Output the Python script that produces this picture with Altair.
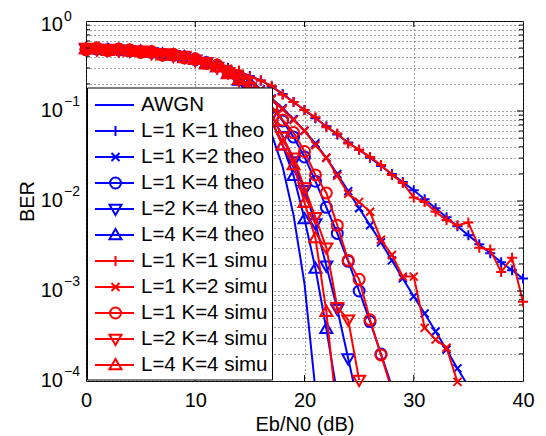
import altair as alt
import pandas as pd

# ---------------- data (log10 of BER) ----------------
ebn0 = list(range(41))

series_names = ["AWGN", "L=1 K=1 theo", "L=1 K=2 theo", "L=1 K=4 theo", "L=2 K=4 theo",
                "L=4 K=4 theo", "L=1 K=1 simu", "L=1 K=2 simu", "L=1 K=4 simu",
                "L=2 K=4 simu", "L=4 K=4 simu"]
series_group = ["theo"] * 6 + ["simu"] * 5
series_marker = ["none", "plus", "cross", "circle", "tdown", "tup",
                 "plus", "cross", "circle", "tdown", "tup"]

awgn = [-0.31, -0.31, -0.32, -0.32, -0.33, -0.34, -0.35, -0.37, -0.38, -0.40, -0.43,
        -0.47, -0.52, -0.60, -0.69, -0.82, -1.00, -1.26, -1.62, -2.16, -2.92, -4.10]
l1k1_theo = [-0.31, -0.31, -0.32, -0.32, -0.33, -0.34, -0.35, -0.36, -0.38, -0.40, -0.42,
             -0.45, -0.48, -0.52, -0.56, -0.61, -0.66, -0.73, -0.81, -0.90, -0.99,
             -1.08, -1.17, -1.26, -1.35, -1.43, -1.52, -1.61, -1.70, -1.79, -1.88,
             -1.98, -2.08, -2.18, -2.28, -2.38, -2.48, -2.58, -2.68, -2.77, -2.86]
l1k2_theo = [-0.31, -0.31, -0.32, -0.32, -0.33, -0.34, -0.35, -0.36, -0.38, -0.40, -0.42,
             -0.45, -0.49, -0.54, -0.60, -0.67, -0.76, -0.86, -0.97, -1.09, -1.22,
             -1.36, -1.52, -1.70, -1.89, -2.08, -2.27, -2.46, -2.66, -2.86, -3.06,
             -3.25, -3.45, -3.65, -3.86, -4.06]
l1k4_theo = [-0.31, -0.31, -0.32, -0.32, -0.33, -0.34, -0.35, -0.37, -0.38, -0.40, -0.43,
             -0.46, -0.50, -0.56, -0.63, -0.72, -0.83, -0.96, -1.11, -1.29, -1.51,
             -1.78, -2.07, -2.36, -2.67, -3.00, -3.34, -3.70, -4.06]
l2k4_theo = [-0.31, -0.31, -0.32, -0.32, -0.33, -0.34, -0.35, -0.37, -0.38, -0.40, -0.43,
             -0.46, -0.51, -0.57, -0.65, -0.75, -0.88, -1.05, -1.28, -1.56, -1.88,
             -2.25, -2.72, -3.20, -3.75, -4.30]
l4k4_theo = [-0.31, -0.31, -0.32, -0.32, -0.33, -0.34, -0.35, -0.37, -0.38, -0.40, -0.43,
             -0.47, -0.51, -0.58, -0.66, -0.77, -0.92, -1.12, -1.38, -1.72, -2.20,
             -2.75, -3.42, -4.15]
l1k1_simu = [-0.30, -0.32, -0.31, -0.33, -0.32, -0.35, -0.34, -0.37, -0.37, -0.41, -0.41,
             -0.45, -0.47, -0.53, -0.55, -0.62, -0.66, -0.72, -0.82, -0.90, -0.99,
             -1.07, -1.18, -1.25, -1.36, -1.43, -1.51, -1.60, -1.71, -1.80, -1.96,
             -2.01, -2.12, -2.21, -2.27, -2.24, -2.52, -2.54, -2.79, -2.63, -3.12]
l1k2_simu = [-0.31, -0.30, -0.32, -0.31, -0.34, -0.33, -0.36, -0.35, -0.39, -0.38, -0.43,
             -0.45, -0.50, -0.53, -0.61, -0.66, -0.77, -0.87, -0.98, -1.10, -1.22,
             -1.38, -1.52, -1.72, -1.92, -2.01, -2.12, -2.43, -2.60, -2.84, -2.84,
             -3.41, -3.54, -3.63, -4.01]
l1k4_simu = [-0.32, -0.30, -0.33, -0.31, -0.32, -0.35, -0.34, -0.38, -0.37, -0.41, -0.42,
             -0.47, -0.49, -0.57, -0.62, -0.73, -0.82, -0.95, -1.10, -1.24, -1.45,
             -1.71, -1.91, -2.27, -2.66, -2.87, -3.32, -3.71, -4.10]
l2k4_simu = [-0.30, -0.32, -0.31, -0.33, -0.33, -0.33, -0.36, -0.36, -0.39, -0.39, -0.44,
             -0.46, -0.52, -0.57, -0.66, -0.74, -0.89, -1.04, -1.29, -1.52, -1.85,
             -2.18, -2.52, -3.18, -3.32, -3.99]
l4k4_simu = [-0.31, -0.31, -0.33, -0.32, -0.34, -0.34, -0.35, -0.38, -0.38, -0.41, -0.43,
             -0.48, -0.51, -0.59, -0.65, -0.78, -0.91, -1.11, -1.38, -1.60, -2.02,
             -2.41, -3.23, -4.40]

series_values = [awgn, l1k1_theo, l1k2_theo, l1k4_theo, l2k4_theo, l4k4_theo,
                 l1k1_simu, l1k2_simu, l1k4_simu, l2k4_simu, l4k4_simu]

x_tick_values = [0, 10, 20, 30, 40]
y_decades = [1, 0.1, 0.01, 0.001, 0.0001]
y_exponents = ["0", "\u22121", "\u22122", "\u22123", "\u22124"]
y_minor = [k * d for d in [0.0001, 0.001, 0.01, 0.1] for k in range(2, 10)]

marker_names = ["plus", "cross", "circle", "tdown", "tup"]
marker_paths = ["M-1,0L1,0M0,-1L0,1",
                "M-0.8,-0.8L0.8,0.8M-0.8,0.8L0.8,-0.8",
                "M1.1,0A1.1,1.1,0,1,1,-1.1,0A1.1,1.1,0,1,1,1.1,0Z",
                "M-1.2,-0.85L1.2,-0.85L0,1.2Z",
                "M-1.2,0.85L1.2,0.85L0,-1.2Z"]

BLUE = "#0000ff"
RED = "#ff0000"
FS = 20
LFS = 20.5
W, H = 437, 360

rows = []
for name, grp, mk, vals in zip(series_names, series_group, series_marker, series_values):
    for xv, lg in zip(ebn0, vals):
        rows.append({"series": name, "grp": grp, "marker": mk, "x": xv, "lg": lg})
df = pd.DataFrame(rows)

xs = alt.Scale(domain=[0, 40], nice=False, zero=False)
ys = alt.Scale(type="log", domain=[0.0001, 1], nice=False)

x_axis = alt.Axis(values=x_tick_values, grid=True, gridDash=[1, 3], gridColor="#444",
                  gridWidth=1, ticks=False, tickSize=0, domain=False, labelFontSize=FS,
                  labelPadding=9, labelColor="black", labelFlush=False,
                  labelOverlap=False, title="Eb/N0 (dB)",
                  titleFontSize=FS, titleFontWeight="normal", titleColor="black",
                  titleY=49, titleBaseline="alphabetic")
y_axis = alt.Axis(values=y_decades + y_minor, grid=True, gridDash=[1, 3], gridColor="#444",
                  gridWidth=1, ticks=False, tickSize=0, domain=False, labels=False,
                  title="BER", titleFontSize=FS, titleFontWeight="normal",
                  titleColor="black", titleX=-59, titleY=H / 2, titleAngle=270,
                  titleAlign="center", titleBaseline="middle")


def X(field="x"):
    return alt.X(f"{field}:Q", scale=xs, axis=x_axis, title="Eb/N0 (dB)")


def Y(field="ber"):
    return alt.Y(f"{field}:Q", scale=ys, axis=y_axis, title="BER")


base = alt.Chart(df).transform_calculate(ber="pow(10, datum.lg)")
shape_enc = alt.Shape("marker:N", scale=alt.Scale(domain=marker_names, range=marker_paths),
                      legend=None)

layers = []
for grp, col in [("theo", BLUE), ("simu", RED)]:
    lines = base.transform_filter(alt.datum.grp == grp).mark_line(
        color=col, strokeWidth=2, clip=True).encode(
        x=X(), y=Y(), detail="series:N", order="x:Q")
    pts = base.transform_filter(
        (alt.datum.grp == grp) & (alt.datum.marker != "none") & (alt.datum.lg >= -4.03)
    ).mark_point(filled=False, strokeWidth=2, size=100, color=col, opacity=1).encode(
        x=X(), y=Y(), shape=shape_enc)
    layers += [lines, pts]

# inward tick marks on all four sides
xt = alt.Chart(pd.DataFrame({"x": [10, 20, 30]}))
for y0, y1 in [(H, H - 6), (0, 6)]:
    layers.append(xt.mark_rule(color="black", strokeWidth=1).encode(
        x=X(), y=alt.value(y0), y2=alt.value(y1)))
ymaj = alt.Chart(pd.DataFrame({"ber": [0.1, 0.01, 0.001]}))
ymin = alt.Chart(pd.DataFrame({"ber": y_minor}))
for src, ln in [(ymaj, 6), (ymin, 4)]:
    for x0, x1 in [(0, ln), (W, W - ln)]:
        layers.append(src.mark_rule(color="black", strokeWidth=1).encode(
            y=Y(), x=alt.value(x0), x2=alt.value(x1)))

# y tick labels 10^n (top one nudged down so it stays on the canvas)
lab_top = alt.Chart(pd.DataFrame({"ber": y_decades[:1], "e": y_exponents[:1]}))
lab_rest = alt.Chart(pd.DataFrame({"ber": y_decades[1:], "e": y_exponents[1:]}))
for src, d10, dex in [(lab_top, 4, -4), (lab_rest, 0, -9)]:
    layers.append(src.mark_text(align="right", baseline="middle", fontSize=FS,
                                color="black", dy=d10).encode(
        y=Y(), x=alt.value(-23), text=alt.value("10")))
    layers.append(src.mark_text(align="left", baseline="middle", fontSize=14,
                                color="black", dy=dex).encode(
        y=Y(), x=alt.value(-22), text="e:N"))

# legend box
one = alt.Chart(pd.DataFrame({"k": [0]}))
layers.append(one.mark_rect(fill="white", stroke="black", strokeWidth=1).encode(
    x=alt.value(1.5), x2=alt.value(186.5), y=alt.value(67), y2=alt.value(359)))
mk_path = dict(zip(marker_names, marker_paths))
for i, (name, grp, mk) in enumerate(zip(series_names, series_group, series_marker)):
    col = BLUE if grp == "theo" else RED
    yy = 84 + 26 * i
    layers.append(one.mark_rule(color=col, strokeWidth=2).encode(
        x=alt.value(9), x2=alt.value(48), y=alt.value(yy)))
    if mk != "none":
        layers.append(one.mark_point(filled=False, strokeWidth=2, size=100, color=col,
                                     opacity=1).encode(
            x=alt.value(29.5), y=alt.value(yy), shape=alt.value(mk_path[mk])))
    layers.append(one.mark_text(align="left", baseline="middle", fontSize=LFS,
                                color="black").encode(
        x=alt.value(55), y=alt.value(yy), text=alt.value(name)))

chart = alt.layer(*layers).properties(
    width=W, height=H,
    autosize=alt.AutoSizeParams(type="none"),
    padding={"left": 78, "top": 13, "right": 15, "bottom": 55},
).configure(
    font="Liberation Sans",
    view=alt.ViewConfig(stroke="black", strokeWidth=1),
)

chart.save("out.html", embed_options={"renderer": "svg", "actions": False})
